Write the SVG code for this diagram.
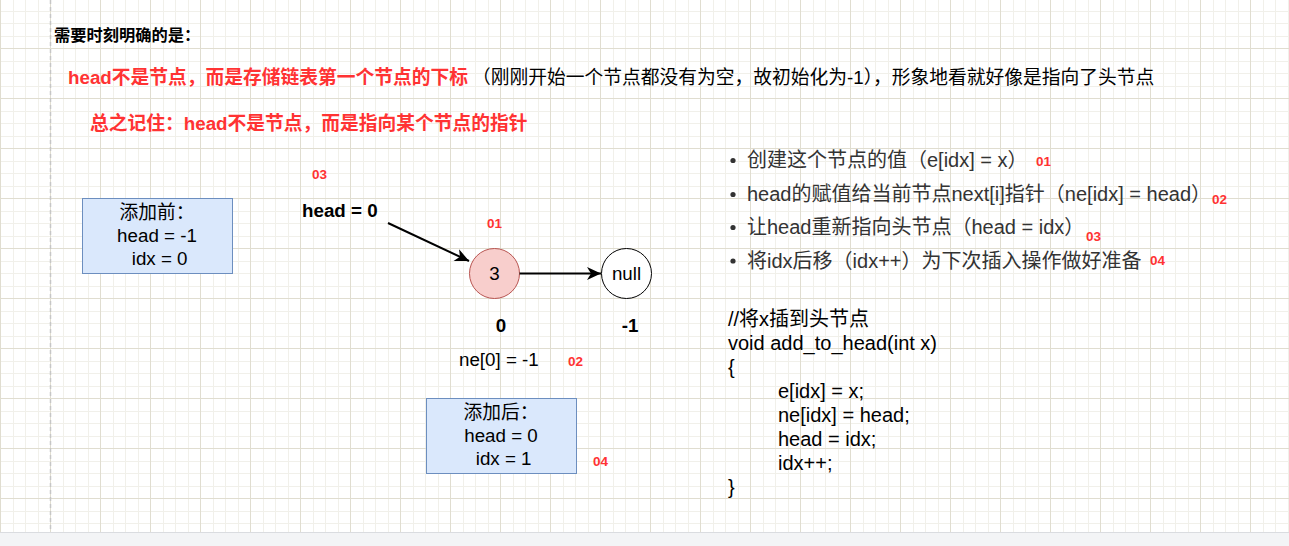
<svg xmlns="http://www.w3.org/2000/svg" width="1289" height="546" viewBox="0 0 1289 546">
<defs>
<pattern id="grid" x="0" y="-2" width="50" height="50" patternUnits="userSpaceOnUse">
<rect width="50" height="50" fill="#ffffff"/>
<rect x="13" y="0" width="1" height="50" fill="#f1f0ea"/>
<rect x="25" y="0" width="1" height="50" fill="#f1f0ea"/>
<rect x="38" y="0" width="1" height="50" fill="#f1f0ea"/>
<rect x="0" y="13" width="50" height="1" fill="#f1f0ea"/>
<rect x="0" y="25" width="50" height="1" fill="#f1f0ea"/>
<rect x="0" y="38" width="50" height="1" fill="#f1f0ea"/>
<rect x="0" y="0" width="1" height="50" fill="#e0ddd0"/>
<rect x="0" y="0" width="50" height="1" fill="#e0ddd0"/>
</pattern>
<marker id="arr" viewBox="0 0 16 14" refX="15" refY="7" markerWidth="16" markerHeight="14" orient="auto" markerUnits="userSpaceOnUse">
<path d="M1,0.5 L15,7 L1,13.5 L5,7 Z" fill="#000"/>
</marker>
<style>
text{font-family:'Liberation Sans','Noto Sans CJK SC',sans-serif;}
.h1{font-size:16.25px;font-weight:bold;fill:#000;}
.big{font-size:18.75px;}
.red{fill:#ff3333;font-weight:bold;}
.num{font-size:13.5px;font-weight:bold;fill:#ff3333;}
.bd{font-weight:bold;fill:#000;}
.n{fill:#000;}
.bl{font-size:20px;fill:#333;}
.code{font-size:20px;fill:#000;}
.box1{fill:#dae8fc;stroke:#6c8ebf;stroke-width:1;}
.mid{text-anchor:middle;}
.conn{stroke:#000;stroke-width:2;fill:none;}
</style>
</defs>
<rect x="0" y="0" width="1289" height="533" fill="url(#grid)"/>
<line x1="50.5" y1="0" x2="50.5" y2="532" stroke="#c6c6c6" stroke-width="1.5" stroke-dasharray="4 3"/>
<rect x="0" y="533" width="1289" height="13" fill="#f3f4f6"/>
<line x1="0" y1="532.5" x2="1289" y2="532.5" stroke="#dadce0" stroke-width="1"/>

<g id="title">
<text class="h1" x="54" y="41">需要时刻明确的是：</text>
</g>
<g id="note1">
<text class="big" x="68" y="84"><tspan class="red">head不是节点，而是存储链表第一个节点的下标</tspan><tspan class="n" dx="4">（刚刚开始一个节点都没有为空，故初始化为-1），形象地看就好像是指向了头节点</tspan></text>
</g>
<g id="note2">
<text class="big red" x="90" y="129.5">总之记住：head不是节点，而是指向某个节点的指针</text>
</g>

<g id="before">
<rect class="box1" x="82.5" y="198.5" width="150" height="75"/>
<text class="big n mid" x="157" y="219">添加前：</text>
<text class="big n mid" x="157" y="242">head = -1</text>
<text class="big n mid" x="157" y="265">&#160;idx = 0</text>
</g>

<g id="label03"><text class="num" x="312" y="179">03</text></g>
<g id="headlabel"><text class="big bd" x="302" y="217">head = 0</text></g>
<g id="label01"><text class="num" x="487" y="228">01</text></g>

<g id="node3">
<circle cx="494.5" cy="273.5" r="25" fill="#f8cecc" stroke="#b85450" stroke-width="1"/>
<text class="big n mid" x="494.5" y="280">3</text>
</g>
<g id="nodenull">
<circle cx="626.5" cy="273.5" r="25" fill="#ffffff" stroke="#000" stroke-width="1"/>
<text class="big n mid" x="626.5" y="280">null</text>
</g>

<g id="connectors">
<line class="conn" x1="388" y1="223" x2="469" y2="261" marker-end="url(#arr)"/>
<line class="conn" x1="519.5" y1="273.5" x2="601" y2="273.5" marker-end="url(#arr)"/>
</g>

<g id="idx0"><text class="big bd mid" x="501" y="331.5">0</text></g>
<g id="idxm1"><text class="big bd mid" x="630" y="331.5">-1</text></g>
<g id="ne0"><text class="big n" x="459" y="366">ne[0] = -1</text></g>
<g id="label02"><text class="num" x="568" y="366">02</text></g>

<g id="after">
<rect class="box1" x="426.5" y="398.5" width="150" height="75"/>
<text class="big n mid" x="501" y="419">添加后：</text>
<text class="big n mid" x="501" y="442">head = 0</text>
<text class="big n mid" x="501" y="465">&#160;idx = 1</text>
</g>
<g id="label04"><text class="num" x="593" y="466">04</text></g>

<g id="bullets">
<circle cx="733" cy="160.5" r="2.6" fill="#333"/>
<circle cx="733" cy="194.5" r="2.6" fill="#333"/>
<circle cx="733" cy="227.5" r="2.6" fill="#333"/>
<circle cx="733" cy="261" r="2.6" fill="#333"/>
<text class="bl" x="747" y="167">创建这个节点的值（e[idx] = x）</text>
<text class="bl" x="747" y="201">head的赋值给当前节点next[i]指针（ne[idx] = head）</text>
<text class="bl" x="747" y="234">让head重新指向头节点（head = idx）</text>
<text class="bl" x="747" y="267.5">将idx后移（idx++）为下次插入操作做好准备</text>
<text class="num" x="1036" y="166">01</text>
<text class="num" x="1212" y="204">02</text>
<text class="num" x="1086" y="240.5">03</text>
<text class="num" x="1150" y="265">04</text>
</g>

<g id="code">
<text class="code" x="728" y="326">//将x插到头节点</text>
<text class="code" x="728" y="350">void add_to_head(int x)</text>
<text class="code" x="728" y="374">{</text>
<text class="code" x="778" y="398">e[idx] = x;</text>
<text class="code" x="778" y="422">ne[idx] = head;</text>
<text class="code" x="778" y="446">head = idx;</text>
<text class="code" x="778" y="470">idx++;</text>
<text class="code" x="728" y="494">}</text>
</g>
</svg>
